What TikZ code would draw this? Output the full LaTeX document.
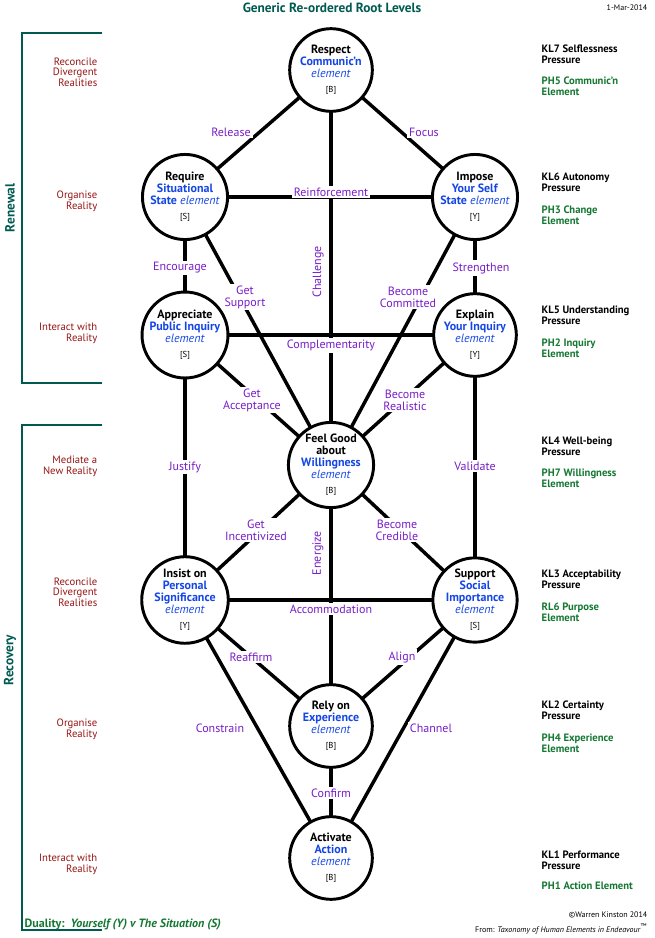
\documentclass[tikz,border=0pt]{standalone}
\usepackage{fontspec}
\setmainfont{PT Sans}
\definecolor{ttl}{RGB}{0,90,80}
\definecolor{bl}{RGB}{20,70,230}
\definecolor{pu}{RGB}{120,30,200}
\definecolor{dr}{RGB}{150,20,20}
\definecolor{gr}{RGB}{20,120,50}
\newcommand{\bb}[1]{\textcolor{bl}{\textbf{#1}}}
\newcommand{\bi}{\textcolor{bl}{\textit{element}}}
\newcommand{\tg}[1]{{\fontsize{6.5}{7}\selectfont[#1]}}
\begin{document}
\begin{tikzpicture}[x=0.75pt,y=-0.75pt,
  el/.style={circle,draw,line width=2.2pt,fill=white,minimum size=62pt,inner sep=0pt,align=center,font=\fontsize{9}{10}\selectfont},
  ln/.style={line width=2.6pt},
  lb/.style={fill=white,inner sep=1.5pt,text=pu,font=\fontsize{9}{10}\selectfont,align=center},
  lft/.style={text=dr,font=\fontsize{8}{9}\selectfont,align=right,anchor=east},
  kl/.style={font=\bfseries\fontsize{8}{9}\selectfont,align=left,anchor=west},
  ph/.style={text=gr,font=\bfseries\fontsize{8}{9}\selectfont,align=left,anchor=west}]
\useasboundingbox (0,0) rectangle (655,938);
\node[text=ttl,font=\bfseries\fontsize{10}{11}\selectfont] (title) at (332,8) {Generic Re-ordered Root Levels};
\node[font=\fontsize{6}{7}\selectfont,anchor=east] (date) at (652,8) {1-Mar-2014};
% edges drawn between coordinates first
\coordinate (R) at (331,70);
\coordinate (Q) at (185,197);
\coordinate (I) at (475,197);
\coordinate (A) at (185,335);
\coordinate (E) at (475,335);
\coordinate (F) at (331,465);
\coordinate (N) at (185,600);
\coordinate (S) at (475,600);
\coordinate (Y) at (331,726);
\coordinate (C) at (331,858);
\draw[ln] (R) -- (Q); \draw[ln] (R) -- (I); \draw[ln] (R) -- (F);
\draw[ln] (Q) -- (I); \draw[ln] (Q) -- (A); \draw[ln] (I) -- (E);
\draw[ln] (Q) -- (F); \draw[ln] (I) -- (F);
\draw[ln] (A) -- (E); \draw[ln] (A) -- (F); \draw[ln] (E) -- (F);
\draw[ln] (A) -- (N); \draw[ln] (E) -- (S);
\draw[ln] (F) -- (N); \draw[ln] (F) -- (S); \draw[ln] (F) -- (Y);
\draw[ln] (N) -- (S); \draw[ln] (N) -- (Y); \draw[ln] (S) -- (Y);
\draw[ln] (N) -- (C); \draw[ln] (S) -- (C); \draw[ln] (Y) -- (C);
% nodes on top
\node[el] (nR) at (R) {\textbf{Respect}\\[-1pt]\bb{Communic'n}\\[-1pt]\bi\\[1pt]\tg{B}};
\node[el] (nQ) at (Q) {\textbf{Require}\\[-1pt]\bb{Situational}\\[-1pt]\bb{State} \bi\\[1pt]\tg{S}};
\node[el] (nI) at (I) {\textbf{Impose}\\[-1pt]\bb{Your Self}\\[-1pt]\bb{State} \bi\\[1pt]\tg{Y}};
\node[el] (nA) at (A) {\textbf{Appreciate}\\[-1pt]\bb{Public Inquiry}\\[-1pt]\bi\\[1pt]\tg{S}};
\node[el] (nE) at (E) {\textbf{Explain}\\[-1pt]\bb{Your Inquiry}\\[-1pt]\bi\\[1pt]\tg{Y}};
\node[el] (nF) at (F) {\textbf{Feel Good}\\[-1pt]\textbf{about}\\[-1pt]\bb{Willingness}\\[-1pt]\bi\\[1pt]\tg{B}};
\node[el] (nN) at (N) {\textbf{Insist on}\\[-1pt]\bb{Personal}\\[-1pt]\bb{Significance}\\[-1pt]\bi\\[1pt]\tg{Y}};
\node[el] (nS) at (S) {\textbf{Support}\\[-1pt]\bb{Social}\\[-1pt]\bb{Importance}\\[-1pt]\bi\\[1pt]\tg{S}};
\node[el] (nY) at (Y) {\textbf{Rely on}\\[-1pt]\bb{Experience}\\[-1pt]\bi\\[1pt]\tg{B}};
\node[el] (nC) at (C) {\textbf{Activate}\\[-1pt]\bb{Action}\\[-1pt]\bi\\[1pt]\tg{B}};
% labels
\node[lb] at (231,132) {Release};
\node[lb] at (424,132) {Focus};
\node[lb] at (331,192) {Reinforcement};
\node[lb,rotate=90] at (318,272) {Challenge};
\node[lb] at (180,268) {Encourage};
\node[lb] at (481,268) {Strengthen};
\node[lb] at (245,297) {Get\\[-1pt]Support};
\node[lb] at (408,297) {Become\\[-1pt]Committed};
\node[lb] at (331,345) {Complementarity};
\node[lb] at (252,400) {Get\\[-1pt]Acceptance};
\node[lb] at (405,400) {Become\\[-1pt]Realistic};
\node[lb] at (185,467) {Justify};
\node[lb] at (475,466) {Validate};
\node[lb] at (256,530) {Get\\[-1pt]Incentivized};
\node[lb] at (397,530) {Become\\[-1pt]Credible};
\node[lb,rotate=90] at (318,553) {Energize};
\node[lb] at (331,609) {Accommodation};
\node[lb] at (251,657) {Reaffirm};
\node[lb] at (402,657) {Align};
\node[lb] at (220,728) {Constrain};
\node[lb] at (431,728) {Channel};
\node[lb] at (331,793) {Confirm};
% brackets
\draw[line width=1.6pt,ttl] (102,33) -- (22,33) -- (22,383) -- (102,383);
\draw[line width=1.6pt,ttl] (102,425) -- (22,425) -- (22,930) -- (102,930);
\node[rotate=90,text=ttl,font=\bfseries\fontsize{10}{11}\selectfont] (ren) at (10,208) {Renewal};
\node[rotate=90,text=ttl,font=\bfseries\fontsize{10}{11}\selectfont] (rec) at (10,660) {Recovery};
\node[lft] at (102,72) {Reconcile\\[-1pt]Divergent\\[-1pt]Realities};
\node[lft] at (102,201) {Organise\\[-1pt]Reality};
\node[lft] at (102,333) {Interact with\\[-1pt]Reality};
\node[lft] at (102,466) {Mediate a\\[-1pt]New Reality};
\node[lft] at (102,592) {Reconcile\\[-1pt]Divergent\\[-1pt]Realities};
\node[lft] at (102,729) {Organise\\[-1pt]Reality};
\node[lft] at (102,864) {Interact with\\[-1pt]Reality};
% right column
\node[kl] at (537,54) {KL7 Selflessness\\[-1pt]Pressure};
\node[ph] at (537,86) {PH5 Communic'n\\[-1pt]Element};
\node[kl] at (537,182) {KL6 Autonomy\\[-1pt]Pressure};
\node[ph] at (537,215) {PH3 Change\\[-1pt]Element};
\node[kl] at (537,315) {KL5 Understanding\\[-1pt]Pressure};
\node[ph] at (537,348) {PH2 Inquiry\\[-1pt]Element};
\node[kl] at (537,446) {KL4 Well-being\\[-1pt]Pressure};
\node[ph] at (537,478) {PH7 Willingness\\[-1pt]Element};
\node[kl] at (537,579) {KL3 Acceptability\\[-1pt]Pressure};
\node[ph] at (537,612) {RL6 Purpose\\[-1pt]Element};
\node[kl] at (537,710) {KL2 Certainty\\[-1pt]Pressure};
\node[ph] at (537,743) {PH4 Experience\\[-1pt]Element};
\node[kl] at (537,860) {KL1 Performance\\[-1pt]Pressure};
\node[ph] at (537,886) {PH1 Action Element};
% footer
\node[anchor=west,text=gr,font=\bfseries\fontsize{9}{10}\selectfont] (dual) at (20,925) {Duality:\ \ \textit{Yourself (Y) v The Situation (S)}};
\node[anchor=east,font=\fontsize{6}{7}\selectfont] (cp) at (652,915) {\textcopyright Warren Kinston 2014};
\node[anchor=east,font=\fontsize{6}{7}\selectfont] (frm) at (652,929) {From: \textit{Taxonomy of Human Elements in Endeavour}\textsuperscript{™}};
\end{tikzpicture}
\end{document}
